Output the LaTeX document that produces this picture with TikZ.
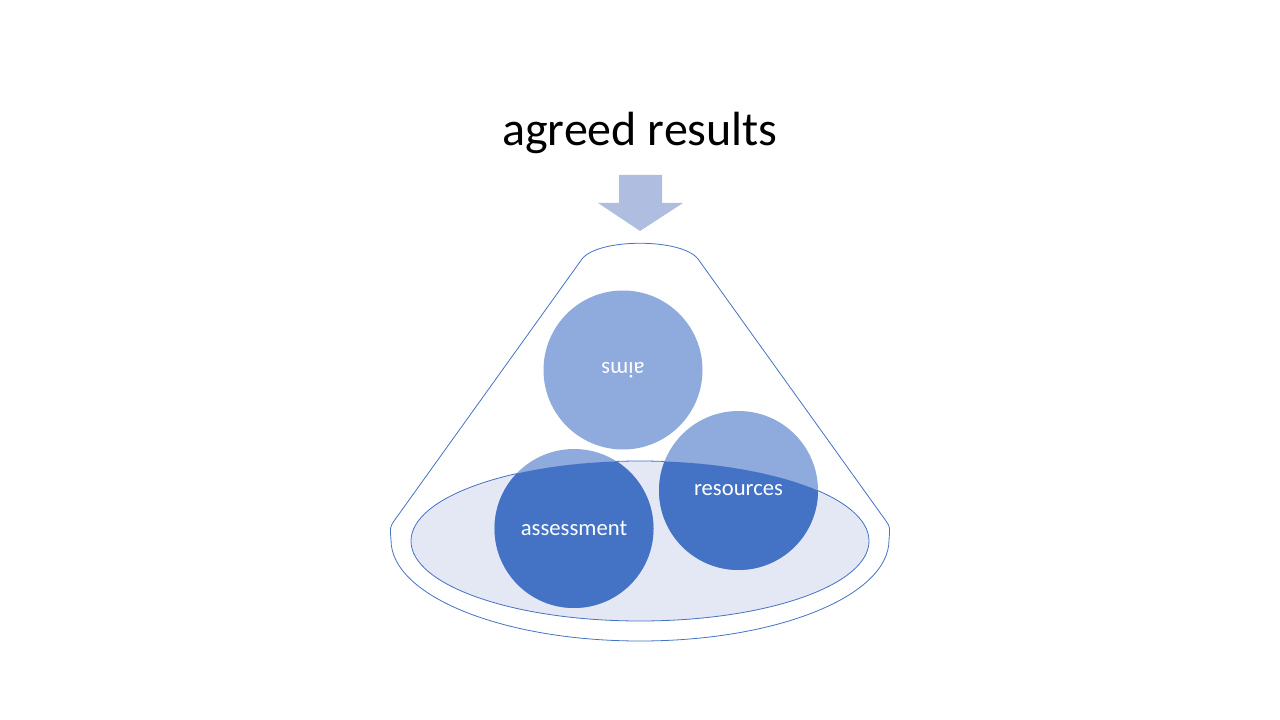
\documentclass[tikz,border=0pt]{standalone}
\usepackage{fontspec}
\setmainfont{Carlito}
\definecolor{accent}{HTML}{4472C4}
\definecolor{lightaccent}{HTML}{8FAADC}
\definecolor{bowlfill}{HTML}{E4E8F4}
\definecolor{arrowfill}{HTML}{AFBDE0}

\begin{document}
\begin{tikzpicture}[x=0.75pt,y=-0.75pt,
  ball/.style={circle, minimum size=119.25pt, inner sep=0pt, fill=lightaccent},
  balltext/.style={text=white, inner sep=0pt, font=\fontsize{17}{20}\selectfont},
  rim/.style={draw=accent, line width=0.6pt}]
\useasboundingbox (0,0) rectangle (1280,720);
\node (title) at (640,133) {\fontsize{36}{43}\selectfont agreed results};
\fill[arrowfill] (619,175) -- (662,175) -- (662,203) -- (683,203) -- (640,231) -- (598,203) -- (619,203) -- cycle;
% funnel
\draw[rim] (582,259) .. controls (598,238) and (682,238) .. (698,259) -- (886,521)
  .. controls (890,527) .. (889,540) arc[start angle=0, end angle=180, x radius=249, y radius=101]
  .. controls (390,527) .. (394,521) -- cycle;
\draw[rim, fill=bowlfill] (640,541) ellipse [x radius=229, y radius=80];
% balls
\node[ball] (aims) at (623,370) {};
\node[ball] (assessment) at (574,528.5) {};
\node[ball] (resources) at (738.5,490.5) {};
\begin{scope}
\clip (640,541) ellipse [x radius=229, y radius=80];
\fill[accent] (assessment) circle [radius=79.5];
\fill[accent] (resources) circle [radius=79.5];
\end{scope}
\node[balltext, rotate=180] (aimstext) at (aims) {aims};
\node[balltext] (assessmenttext) at (assessment) {assessment};
\node[balltext] (resourcestext) at (resources) {resources};
\end{tikzpicture}
\end{document}
